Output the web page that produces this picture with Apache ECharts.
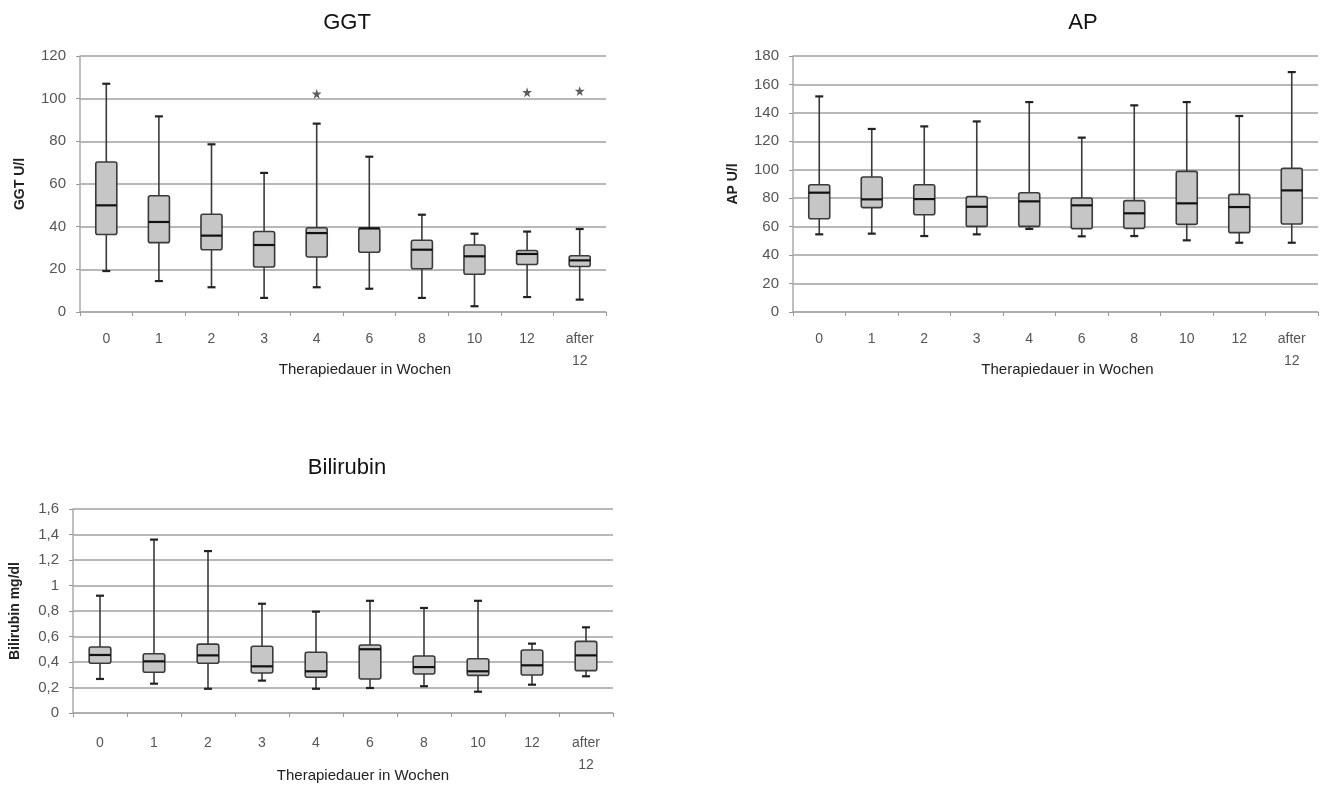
<!DOCTYPE html>
<html>
<head>
<meta charset="utf-8">
<script src="https://cdn.jsdelivr.net/npm/echarts@6/dist/echarts.min.js"></script>
<style>
html,body{margin:0;padding:0;background:#fff;}
#c{width:1331px;height:790px;}
</style>
</head>
<body>
<div id="c"></div>
<script>
// ---- data ----
const categories = ['0','1','2','3','4','6','8','10','12','after\n12'];

const ggtLow  = [19.2, 14.5, 11.6, 6.6, 11.6, 10.9, 6.6, 2.7, 7.0, 5.8];
const ggtQ1   = [36.3, 32.5, 29.2, 21.1, 25.8, 28.0, 20.3, 17.7, 22.3, 21.3];
const ggtMed  = [50.0, 42.2, 35.8, 31.4, 37.0, 39.2, 29.2, 26.1, 27.2, 24.2];
const ggtQ3   = [70.3, 54.5, 45.8, 37.7, 39.5, 39.2, 33.6, 31.4, 28.8, 26.4];
const ggtHigh = [107.0, 91.7, 78.6, 65.2, 88.3, 72.8, 45.6, 36.7, 37.7, 38.9];
const ggtOutliers = [[4, 102.3], [8, 103.0], [9, 103.6]];

const apLow  = [54.6, 55.1, 53.4, 54.6, 58.4, 53.2, 53.4, 50.4, 48.7, 48.7];
const apQ1   = [65.6, 73.4, 68.4, 60.2, 60.2, 58.6, 58.8, 61.6, 55.8, 61.9];
const apMed  = [83.9, 79.2, 79.4, 74.0, 77.8, 75.0, 69.4, 76.4, 73.8, 85.5];
const apQ3   = [89.5, 94.9, 89.5, 81.1, 83.9, 80.2, 78.3, 98.9, 82.7, 101.0];
const apHigh = [151.6, 128.7, 130.5, 134.0, 147.6, 122.6, 145.3, 147.6, 137.8, 168.7];

const biliLow  = [0.267, 0.23, 0.19, 0.254, 0.19, 0.196, 0.21, 0.167, 0.222, 0.288];
const biliQ1   = [0.39, 0.32, 0.39, 0.314, 0.28, 0.267, 0.306, 0.295, 0.298, 0.332];
const biliMed  = [0.455, 0.405, 0.452, 0.366, 0.327, 0.50, 0.36, 0.327, 0.374, 0.452];
const biliQ3   = [0.518, 0.465, 0.54, 0.523, 0.476, 0.533, 0.447, 0.426, 0.494, 0.562];
const biliHigh = [0.92, 1.36, 1.27, 0.857, 0.795, 0.88, 0.824, 0.88, 0.544, 0.672];

// ---- helpers ----
function boxData(low, q1, med, q3, high) {
  return categories.map((c, i) => [i, low[i], q1[i], med[i], q3[i], high[i]]);
}

function renderBox(params, api) {
  const i = api.value(0);
  const pLow = api.coord([i, api.value(1)]);
  const pQ1 = api.coord([i, api.value(2)]);
  const pMed = api.coord([i, api.value(3)]);
  const pQ3 = api.coord([i, api.value(4)]);
  const pHigh = api.coord([i, api.value(5)]);
  const bw = api.size([1, 0])[0] * 0.2;
  const cw = 4;
  const x = pMed[0];
  const lineStyle = { stroke: '#3a3a3a', lineWidth: 1.6 };
  return {
    type: 'group',
    children: [
      { type: 'line', shape: { x1: x, y1: pQ3[1], x2: x, y2: pHigh[1] }, style: lineStyle },
      { type: 'line', shape: { x1: x, y1: pQ1[1], x2: x, y2: pLow[1] }, style: lineStyle },
      { type: 'line', shape: { x1: x - cw, y1: pHigh[1], x2: x + cw, y2: pHigh[1] }, style: { stroke: '#222', lineWidth: 2.2 } },
      { type: 'line', shape: { x1: x - cw, y1: pLow[1], x2: x + cw, y2: pLow[1] }, style: { stroke: '#222', lineWidth: 2.2 } },
      { type: 'rect', shape: { x: x - bw, y: pQ3[1], width: bw * 2, height: pQ1[1] - pQ3[1], r: 2 },
        style: { fill: '#c6c6c6', stroke: '#3a3a3a', lineWidth: 1.6 } },
      { type: 'line', shape: { x1: x - bw, y1: pMed[1], x2: x + bw, y2: pMed[1] }, style: { stroke: '#111', lineWidth: 2.2 } }
    ]
  };
}

const FONT = 'Liberation Sans, Arial, sans-serif';
const axisLabelStyle = { color: '#555', fontSize: 14, fontFamily: FONT };

function xAxisFor(gridIndex, shift, labelMargin, nameGap) {
  return {
    type: 'category', gridIndex: gridIndex, data: categories, boundaryGap: true,
    axisLine: { lineStyle: { color: '#aaa', width: 1.5 } },
    axisTick: { show: true, alignWithLabel: false, length: 4, lineStyle: { color: '#999' } },
    axisLabel: Object.assign({}, axisLabelStyle, { margin: labelMargin, lineHeight: 22, interval: 0 }),
    name: 'Therapiedauer in Wochen', nameLocation: 'middle', nameGap: nameGap, nameMoveOverlap: false,
    nameTextStyle: { color: '#222', fontSize: 15, fontFamily: FONT, padding: [0, 0, 0, shift] }
  };
}

function yAxisFor(gridIndex, min, max, interval, name, gap, fmt) {
  return {
    type: 'value', gridIndex: gridIndex, min: min, max: max, interval: interval,
    axisLine: { show: true, lineStyle: { color: '#aaa', width: 1.5 } },
    axisTick: { show: true, length: 4, lineStyle: { color: '#999' } },
    axisLabel: Object.assign({}, axisLabelStyle, { fontSize: 15, margin: 14, formatter: fmt }),
    splitLine: { show: true, lineStyle: { color: '#a0a0a0', width: 1.5 } },
    name: name, nameLocation: 'middle', nameGap: gap, nameRotate: 90, nameMoveOverlap: false,
    nameTextStyle: { color: '#222', fontSize: 14, fontWeight: 'bold', fontFamily: FONT }
  };
}

const starPath = 'path://M50,0 L61,35 L98,35 L68,57 L79,91 L50,70 L21,91 L32,57 L2,35 L39,35 Z';

const chart = echarts.init(document.getElementById('c'), null, { renderer: 'canvas' });
chart.setOption({
  animation: false,
  backgroundColor: '#fff',
  title: [
    { text: 'GGT', left: 342, top: 7, textAlign: 'center', textStyle: { fontSize: 22, fontWeight: 'normal', color: '#111', fontFamily: FONT } },
    { text: 'AP', left: 1078, top: 7, textAlign: 'center', textStyle: { fontSize: 22, fontWeight: 'normal', color: '#111', fontFamily: FONT } },
    { text: 'Bilirubin', left: 342, top: 452, textAlign: 'center', textStyle: { fontSize: 22, fontWeight: 'normal', color: '#111', fontFamily: FONT } }
  ],
  grid: [
    { left: 80, top: 56, width: 526, height: 256, outerBoundsMode: 'none', containLabel: false },
    { left: 793, top: 56, width: 525, height: 256, outerBoundsMode: 'none', containLabel: false },
    { left: 73, top: 509, width: 540, height: 204, outerBoundsMode: 'none', containLabel: false }
  ],
  xAxis: [xAxisFor(0, 44, 16, 50), xAxisFor(1, 24, 16, 50), xAxisFor(2, 40, 19, 55)],
  yAxis: [
    yAxisFor(0, 0, 120, 20, 'GGT U/l', 53),
    yAxisFor(1, 0, 180, 20, 'AP U/l', 53),
    yAxisFor(2, 0, 1.6, 0.2, 'Bilirubin mg/dl', 51, v => String(Math.round(v * 10) / 10).replace('.', ','))
  ],
  series: [
    { type: 'custom', xAxisIndex: 0, yAxisIndex: 0, renderItem: renderBox,
      encode: { x: 0, y: [1, 2, 3, 4, 5] }, data: boxData(ggtLow, ggtQ1, ggtMed, ggtQ3, ggtHigh) },
    { type: 'scatter', xAxisIndex: 0, yAxisIndex: 0, symbol: starPath, symbolSize: 10,
      itemStyle: { color: '#333' }, data: ggtOutliers },
    { type: 'custom', xAxisIndex: 1, yAxisIndex: 1, renderItem: renderBox,
      encode: { x: 0, y: [1, 2, 3, 4, 5] }, data: boxData(apLow, apQ1, apMed, apQ3, apHigh) },
    { type: 'custom', xAxisIndex: 2, yAxisIndex: 2, renderItem: renderBox,
      encode: { x: 0, y: [1, 2, 3, 4, 5] }, data: boxData(biliLow, biliQ1, biliMed, biliQ3, biliHigh) }
  ]
});
</script>
</body>
</html>
